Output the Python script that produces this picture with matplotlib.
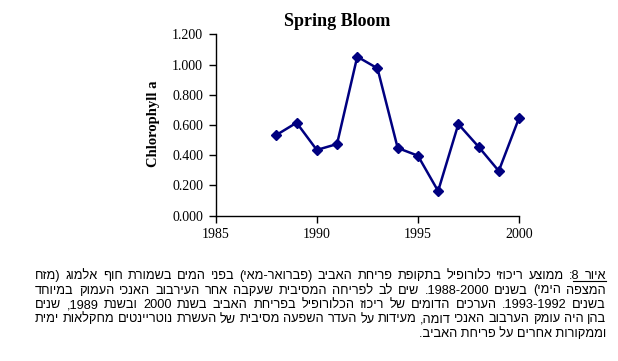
import re
import matplotlib
matplotlib.use("Agg")
import matplotlib.pyplot as plt
from matplotlib.ticker import FormatStrFormatter

# data
years = [1988, 1989, 1990, 1991, 1992, 1993, 1994, 1995, 1996, 1997, 1998, 1999, 2000]
chl = [0.534, 0.615, 0.435, 0.474, 1.052, 0.975, 0.448, 0.397, 0.163, 0.606, 0.456, 0.296, 0.646]
xticks = [1985, 1990, 1995, 2000]
yticks = [0.0, 0.2, 0.4, 0.6, 0.8, 1.0, 1.2]

title = "Spring Bloom"
ylabel = "Chlorophyll a"
caption = [
    "איור 8: ממוצע ריכוזי כלורופיל בתקופת פריחת האביב (פברואר-מאי) בפני המים בשמורת חוף אלמוג (מזח",
    "המצפה הימי) בשנים 1988-2000. שים לב לפריחה המסיבית שעקבה אחר העירבוב האנכי העמוק במיוחד",
    "בשנים 1993-1992. הערכים הדומים של ריכוז הכלורופיל בפריחת האביב בשנת 2000 ובשנת 1989, שנים",
    "בהן היה עומק הערבוב האנכי דומה, מעידות על העדר השפעה מסיבית של העשרת נוטריינטים מחקלאות ימית",
    "וממקורות אחרים על פריחת האביב.",
]

MIRROR = {"(": ")", ")": "("}


def visual(s):
    # crude bidi: reverse the line, keep number/latin runs left-to-right
    tokens = re.findall(r"[0-9A-Za-z]+(?:[-.,:][0-9A-Za-z]+)*|.", s)
    out = []
    for t in reversed(tokens):
        out.append(MIRROR.get(t, t))
    return "".join(out)


W, H = 618, 361
fig = plt.figure(figsize=(W / 100, H / 100), dpi=100)
fig.patch.set_facecolor("white")

serif = ["Liberation Serif", "DejaVu Serif"]
heb = ["Liberation Sans", "DejaVu Sans"]

ax = fig.add_axes([215.7 / W, 1 - 215.7 / H, (519 - 215.7) / W, (215.7 - 34.3) / H])
ax.plot(years, chl, color="#000080", lw=1.8, marker="D", markersize=5.5,
        markerfacecolor="#000080", markeredgecolor="#000080", clip_on=False)
ax.set_xlim(1985, 2000)
ax.set_ylim(0, 1.2)
ax.set_xticks(xticks)
ax.set_yticks(yticks)
ax.yaxis.set_major_formatter(FormatStrFormatter("%.3f"))
for s in ["top", "right"]:
    ax.spines[s].set_visible(False)
for s in ["left", "bottom"]:
    ax.spines[s].set_linewidth(1.0)
ax.tick_params(direction="out", length=5, width=1, labelsize=10, pad=4)
for lab in ax.get_xticklabels() + ax.get_yticklabels():
    lab.set_family(serif)
ax.patch.set_alpha(0)

fig.text(337.5 / W, 1 - 21.7 / H, title, ha="center", va="center",
         fontsize=13, fontweight="bold", family=serif)
fig.text(153 / W, 1 - 124 / H, ylabel, ha="center", va="center", rotation=90,
         fontsize=10.5, fontweight="bold", family=serif)

# caption: justified right-to-left paragraph
x_left, x_right = 35, 606
base = 279
step = 14.5
cap_size = 9.2
r = fig.canvas.get_renderer()


def width_px(s):
    t = fig.text(0, 0, s, fontsize=cap_size, family=heb)
    w = t.get_window_extent(renderer=r).width
    t.remove()
    return w


for i, line in enumerate(caption):
    y = 1 - (base + i * step) / H
    words = visual(line).split(" ")
    last = i == len(caption) - 1
    if last:
        fig.text(x_right / W, y, visual(line), ha="right", va="baseline",
                 fontsize=cap_size, family=heb)
        continue
    widths = [width_px(w) for w in words]
    gap = (x_right - x_left - sum(widths)) / (len(words) - 1)
    x = x_left
    for w, wd in zip(words, widths):
        fig.text(x / W, y, w, ha="left", va="baseline", fontsize=cap_size, family=heb)
        x += wd + gap
    if i == 0:
        # underline "איור 8" (the two rightmost words, without the colon)
        colon = width_px(":8") - width_px("8")
        x0 = x_right - widths[-1] - gap - widths[-2] + colon
        uy = 1 - (base + 2.3) / H
        fig.add_artist(plt.Line2D([x0 / W, x_right / W], [uy, uy], color="black", lw=0.8))

fig.savefig("out.png", dpi=100)
